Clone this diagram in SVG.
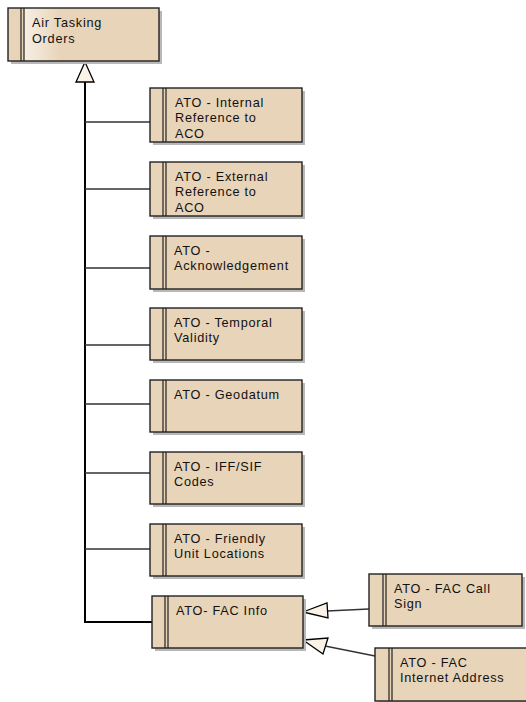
<svg xmlns="http://www.w3.org/2000/svg" width="526" height="702" viewBox="0 0 526 702">
<defs>
<style>
.sh{fill:#b8b8b8;}
.bx{fill:#E7D4B9;stroke:#222;stroke-width:1.4;}
.dl{stroke:#222;stroke-width:1.2;}
.t{font-family:"Liberation Sans",Arial,sans-serif;font-size:12.7px;letter-spacing:0.75px;fill:#111;}
.c{stroke:#333;stroke-width:1.3;fill:none;}
.main{stroke:#000;stroke-width:2;fill:none;}
.tri{fill:#FBF3E8;stroke:#000;stroke-width:1.3;}
</style>
<linearGradient id="g1" x1="0" y1="0" x2="1" y2="0">
<stop offset="0" stop-color="#E7D4B9"/>
<stop offset="0.105" stop-color="#E7D4B9"/>
<stop offset="0.11" stop-color="#F7EFE4"/>
<stop offset="0.35" stop-color="#E7D4B9"/>
<stop offset="1" stop-color="#E7D4B9"/>
</linearGradient>
</defs>
<rect width="526" height="702" fill="#fff"/>
<g id="connectors">
<path class="main" d="M85 82 V622 H152"/>
<path class="c" d="M85 122 H150 M85 189 H150 M85 268 H150 M85 345 H150 M85 404 H150 M85 473 H150 M85 549 H150"/>
<polygon class="tri" points="85,62 76,82 94,82"/>
<path class="c" d="M369 609 L327 611"/>
<polygon class="tri" points="303,612 327,603 328,618"/>
<path class="c" d="M375 656 L325 646"/>
<polygon class="tri" points="303,640 328,638 323,654"/>
</g>
<g id="n1">
<rect class="sh" x="11" y="11" width="151" height="53"/>
<rect class="bx" x="8" y="8" width="151" height="53" style="fill:url(#g1)"/>
<path class="dl" d="M21 8 V61 M24 8 V61"/>
<text class="t" x="32" y="26.7">Air Tasking</text>
<text class="t" x="32" y="42.5">Orders</text>
</g>
<g id="n2">
<rect class="sh" x="153" y="91" width="152" height="54"/>
<rect class="bx" x="150" y="88" width="152" height="54"/>
<path class="dl" d="M163 88 V142 M166 88 V142"/>
<text class="t" x="175" y="106.7">ATO - Internal</text>
<text class="t" x="175" y="122">Reference to</text>
<text class="t" x="175" y="137.7">ACO</text>
</g>
<g id="n3">
<rect class="sh" x="153" y="165" width="152" height="54"/>
<rect class="bx" x="150" y="162" width="152" height="54"/>
<path class="dl" d="M163 162 V216 M166 162 V216"/>
<text class="t" x="175" y="180.7">ATO - External</text>
<text class="t" x="175" y="196">Reference to</text>
<text class="t" x="175" y="211.7">ACO</text>
</g>
<g id="n4">
<rect class="sh" x="153" y="239" width="152" height="53"/>
<rect class="bx" x="150" y="236" width="152" height="53"/>
<path class="dl" d="M163 236 V289 M166 236 V289"/>
<text class="t" x="174" y="254.7">ATO -</text>
<text class="t" x="174" y="270.3">Acknowledgement</text>
</g>
<g id="n5">
<rect class="sh" x="153" y="311" width="152" height="52"/>
<rect class="bx" x="150" y="308" width="152" height="52"/>
<path class="dl" d="M163 308 V360 M166 308 V360"/>
<text class="t" x="174" y="326.7">ATO - Temporal</text>
<text class="t" x="174" y="342.3">Validity</text>
</g>
<g id="n6">
<rect class="sh" x="153" y="383" width="152" height="52"/>
<rect class="bx" x="150" y="380" width="152" height="52"/>
<path class="dl" d="M163 380 V432 M166 380 V432"/>
<text class="t" x="174" y="398.7">ATO - Geodatum</text>
</g>
<g id="n7">
<rect class="sh" x="153" y="455" width="152" height="52"/>
<rect class="bx" x="150" y="452" width="152" height="52"/>
<path class="dl" d="M163 452 V504 M166 452 V504"/>
<text class="t" x="174" y="470.7">ATO - IFF/SIF</text>
<text class="t" x="174" y="486.3">Codes</text>
</g>
<g id="n8">
<rect class="sh" x="153" y="527" width="152" height="52"/>
<rect class="bx" x="150" y="524" width="152" height="52"/>
<path class="dl" d="M163 524 V576 M166 524 V576"/>
<text class="t" x="174" y="542.7">ATO - Friendly</text>
<text class="t" x="174" y="558.3">Unit Locations</text>
</g>
<g id="n9">
<rect class="sh" x="155" y="599" width="151" height="52"/>
<rect class="bx" x="152" y="596" width="151" height="52"/>
<path class="dl" d="M165 596 V648 M168 596 V648"/>
<text class="t" x="176" y="614.7">ATO- FAC Info</text>
</g>
<g id="n10">
<rect class="sh" x="372" y="577" width="153" height="52"/>
<rect class="bx" x="369" y="574" width="153" height="52"/>
<path class="dl" d="M383 574 V626 M386 574 V626"/>
<text class="t" x="394" y="592.7">ATO - FAC Call</text>
<text class="t" x="394" y="608.3">Sign</text>
</g>
<g id="n11">
<rect class="sh" x="378" y="651" width="152" height="53"/>
<rect class="bx" x="375" y="648" width="152" height="53"/>
<path class="dl" d="M389 648 V701 M392 648 V701"/>
<text class="t" x="400" y="666.7">ATO - FAC</text>
<text class="t" x="400" y="682.3">Internet Address</text>
</g>
</svg>
